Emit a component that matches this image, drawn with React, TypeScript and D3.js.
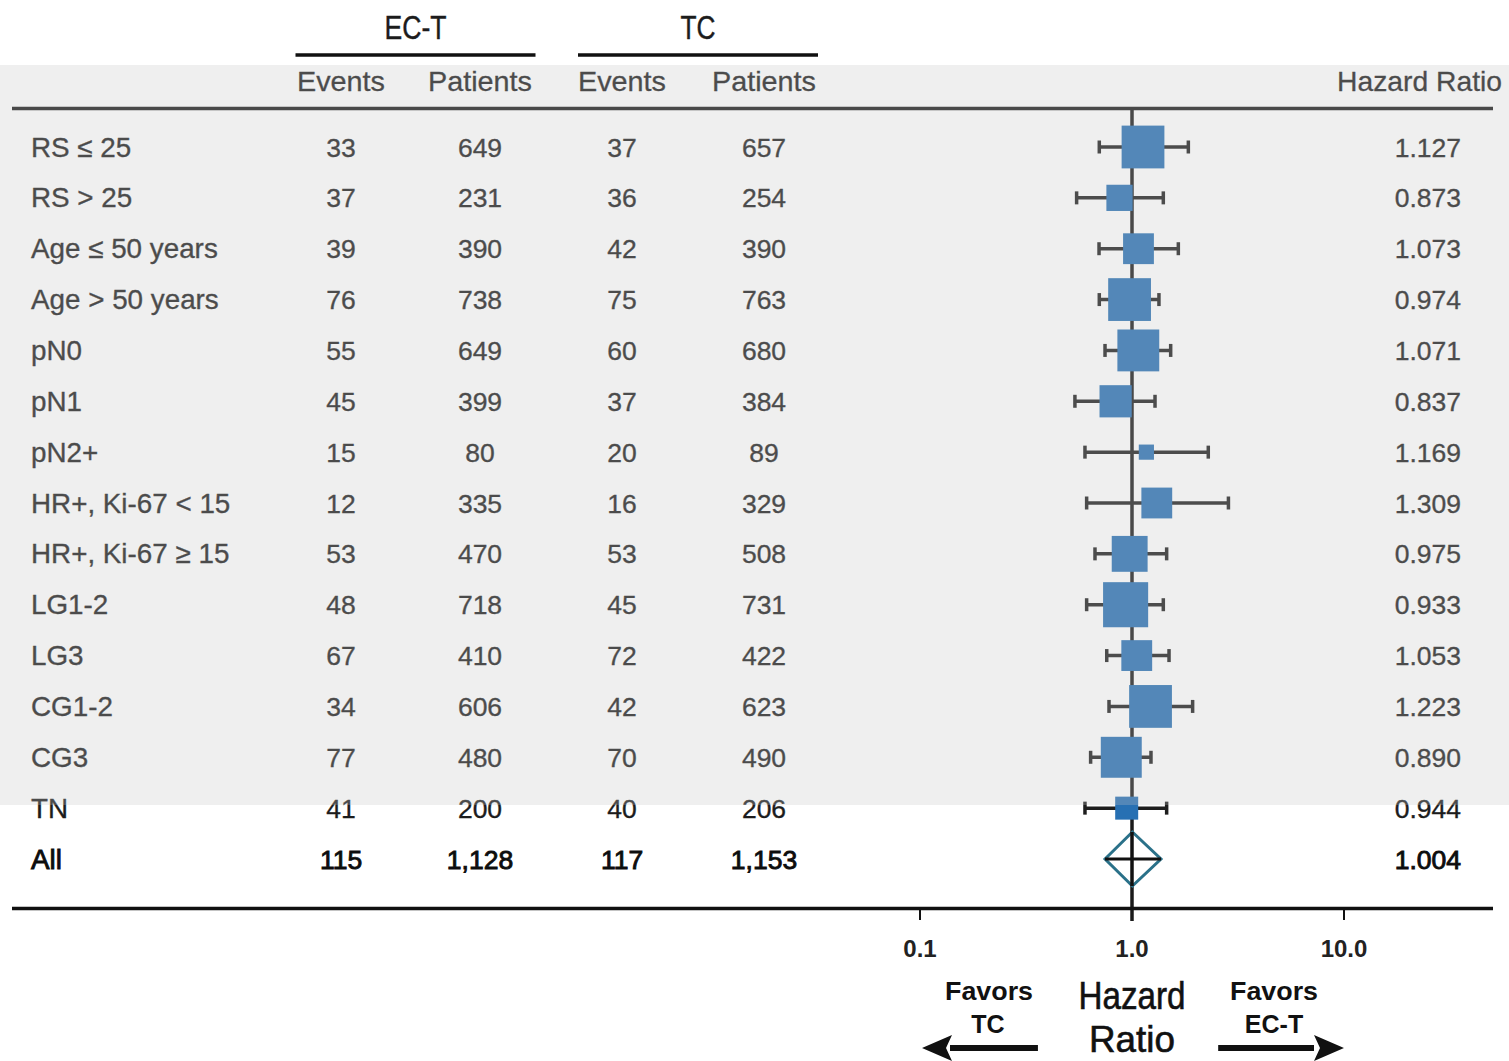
import React from "react";
import * as d3 from "d3";

const labels = ["RS ≤ 25", "RS > 25", "Age ≤ 50 years", "Age > 50 years", "pN0", "pN1", "pN2+", "HR+, Ki-67 < 15", "HR+, Ki-67 ≥ 15", "LG1-2", "LG3", "CG1-2", "CG3", "TN", "All"];
const ectEvents = [33, 37, 39, 76, 55, 45, 15, 12, 53, 48, 67, 34, 77, 41, 115];
const ectPatients = [649, 231, 390, 738, 649, 399, 80, 335, 470, 718, 410, 606, 480, 200, 1128];
const tcEvents = [37, 36, 42, 75, 60, 37, 20, 16, 53, 45, 72, 42, 70, 40, 117];
const tcPatients = [657, 254, 390, 763, 680, 384, 89, 329, 508, 731, 422, 623, 490, 206, 1153];
const hazardRatio = [1.127, 0.873, 1.073, 0.974, 1.071, 0.837, 1.169, 1.309, 0.975, 0.933, 1.053, 1.223, 0.89, 0.944, 1.004];
const ciLower = [0.701, 0.548, 0.699, 0.701, 0.746, 0.538, 0.6, 0.611, 0.669, 0.611, 0.76, 0.779, 0.638, 0.6, 0.746];
const ciUpper = [1.844, 1.405, 1.654, 1.34, 1.522, 1.284, 2.29, 2.85, 1.457, 1.405, 1.495, 1.932, 1.229, 1.457, 1.37];
const squareWeight = [0.93, 0.57, 0.67, 0.93, 0.91, 0.7, 0.33, 0.67, 0.78, 0.98, 0.67, 0.93, 0.89, 0.5, 0];
const axisTicks = [0.1, 1, 10];
const groupHeaders = ["EC-T", "TC"];
const colHeaders = ["Events", "Patients", "Events", "Patients"];

const W = 1509;
const H = 1061;
const FONT = "'Liberation Sans', Arial, Helvetica, sans-serif";

export default function App() {
  const x = d3.scaleLog().domain([0.1, 10]).range([920, 1344]);
  const y = d3.scalePoint<string>().domain(labels).range([147, 859]);
  const side = d3.scaleLinear().domain([0, 1]).range([0, 46]);
  const fmtHR = d3.format(".3f");
  const fmtN = d3.format(",");
  const fmtTick = d3.format(".1f");
  const colX = [341, 480, 622, 764];
  const cols = [ectEvents, ectPatients, tcEvents, tcPatients];
  const nRows = labels.length;
  const isTotal = (i: number) => i === nRows - 1;
  const textColor = "#1c1c1c";
  const lineColor = "#1a1a1a";
  const sq = "#2770b3";

  const ah = 30, aw = 13;

  return (
    <svg width={W} height={H} style={{ position: "fixed", left: 0, top: 0, background: "#fff" }} fontFamily={FONT}>
      <rect x={0} y={0} width={W} height={H} fill="#fff" />
      {/* group headers */}
      {groupHeaders.map((g, gi) => {
        const cx = gi === 0 ? (colX[0] + colX[1]) / 2 + 5 : (colX[2] + colX[3]) / 2 + 5;
        return (
          <g key={g}>
            <text x={cx} y={39} textAnchor="middle" fontSize={33} fill={textColor} stroke={textColor} strokeWidth={0.4} textLength={g.length > 2 ? 62 : 35} lengthAdjust="spacingAndGlyphs">{g}</text>
            <line x1={cx - 120} x2={cx + 120} y1={55} y2={55} stroke="#111" strokeWidth={3.5} />
          </g>
        );
      })}
      {/* column headers */}
      {colHeaders.map((c, ci) => (
        <text key={ci} x={colX[ci]} y={91} textAnchor="middle" fontSize={28} fill={textColor} stroke={textColor} strokeWidth={0.3} textLength={c === "Events" ? 88 : 104} lengthAdjust="spacingAndGlyphs">{c}</text>
      ))}
      <text x={1502} y={91} textAnchor="end" fontSize={28} fill={textColor} stroke={textColor} strokeWidth={0.3} textLength={165} lengthAdjust="spacingAndGlyphs">Hazard Ratio</text>
      <line x1={12} x2={1493} y1={108.5} y2={108.5} stroke={lineColor} strokeWidth={3.5} />

      {/* reference line */}
      <line x1={x(1)} x2={x(1)} y1={108} y2={921} stroke={lineColor} strokeWidth={3.5} />

      {/* rows */}
      {labels.map((lab, i) => {
        const cy = y(lab)!;
        const total = isTotal(i);
        return (
          <g key={lab} fontSize={26.5} fill={total ? "#0d0d0d" : textColor} stroke={total ? "#0d0d0d" : textColor} strokeWidth={total ? 0.9 : 0.35}>
            <text x={31} y={cy + 9.5} fontSize={27.8}>{lab}</text>
            {cols.map((arr, ci) => (
              <text key={ci} x={colX[ci]} y={cy + 9.5} textAnchor="middle">{fmtN(arr[i])}</text>
            ))}
            <text x={1461} y={cy + 9.5} textAnchor="end">{fmtHR(hazardRatio[i])}</text>
          </g>
        );
      })}

      {/* CIs and squares */}
      {labels.map((lab, i) => {
        const cy = y(lab)!;
        if (isTotal(i)) {
          const xl = x(ciLower[i]), xu = x(ciUpper[i]), xm = x(hazardRatio[i]);
          const hh = 27;
          return (
            <g key={lab}>
              <path d={`M${xl},${cy} L${xm},${cy - hh} L${xu},${cy} L${xm},${cy + hh} Z`} fill="#fff" stroke="#2a7189" strokeWidth={3} />
              <line x1={xl} x2={xu} y1={cy} y2={cy} stroke="#111" strokeWidth={3} />
              <line x1={x(1)} x2={x(1)} y1={cy - hh} y2={cy + hh} stroke="#111" strokeWidth={3.5} />
            </g>
          );
        }
        const s = side(squareWeight[i]);
        return (
          <g key={lab}>
            <line x1={x(ciLower[i])} x2={x(ciUpper[i])} y1={cy} y2={cy} stroke="#1e1e1e" strokeWidth={3.5} />
            <line x1={x(ciLower[i])} x2={x(ciLower[i])} y1={cy - 6.5} y2={cy + 6.5} stroke="#1e1e1e" strokeWidth={3.5} />
            <line x1={x(ciUpper[i])} x2={x(ciUpper[i])} y1={cy - 6.5} y2={cy + 6.5} stroke="#1e1e1e" strokeWidth={3.5} />
            <rect x={x(hazardRatio[i]) - s / 2} y={cy - s / 2} width={s} height={s} fill={sq} />
          </g>
        );
      })}

      {/* faded band */}
      <rect x={0} y={65} width={W} height={740} fill="#c6c6c6" opacity={0.28} />

      {/* bottom axis */}
      <line x1={12} x2={1493} y1={908.5} y2={908.5} stroke="#111" strokeWidth={3.5} />
      {axisTicks.map((t) => (
        <g key={t}>
          {t !== 1 && <line x1={x(t)} x2={x(t)} y1={908} y2={920} stroke="#111" strokeWidth={2} />}
          <text x={x(t)} y={957} textAnchor="middle" fontSize={24} fontWeight="bold" fill="#222">{fmtTick(t)}</text>
        </g>
      ))}

      {/* axis title */}
      <text x={x(1)} y={1009} textAnchor="middle" fontSize={38} fill="#111" stroke="#111" strokeWidth={0.6} textLength={107} lengthAdjust="spacingAndGlyphs">Hazard</text>
      <text x={x(1)} y={1052} textAnchor="middle" fontSize={37} fill="#111" stroke="#111" strokeWidth={0.6} textLength={86} lengthAdjust="spacingAndGlyphs">Ratio</text>

      <g fontSize={25} fontWeight="bold" fill="#111" textAnchor="middle">
        <text x={989} y={1000} textLength={88} lengthAdjust="spacingAndGlyphs">Favors</text>
        <text x={988} y={1033}>TC</text>
        <text x={1274} y={1000} textLength={88} lengthAdjust="spacingAndGlyphs">Favors</text>
        <text x={1274} y={1033}>EC-T</text>
      </g>

      {/* arrows */}
      <line x1={x(0.1) + ah} x2={x(0.36)} y1={1048} y2={1048} stroke="#111" strokeWidth={6} />
      <path d={`M${x(0.1) + 2},1048 L${x(0.1) + 2 + ah},${1048 - aw} L${x(0.1) + 2 + ah - 6},1048 L${x(0.1) + 2 + ah},${1048 + aw} Z`} fill="#111" />
      <line x1={x(2.55)} x2={x(10) - ah} y1={1048} y2={1048} stroke="#111" strokeWidth={6} />
      <path d={`M${x(10)},1048 L${x(10) - ah},${1048 - aw} L${x(10) - ah + 6},1048 L${x(10) - ah},${1048 + aw} Z`} fill="#111" />
    </svg>
  );
}
